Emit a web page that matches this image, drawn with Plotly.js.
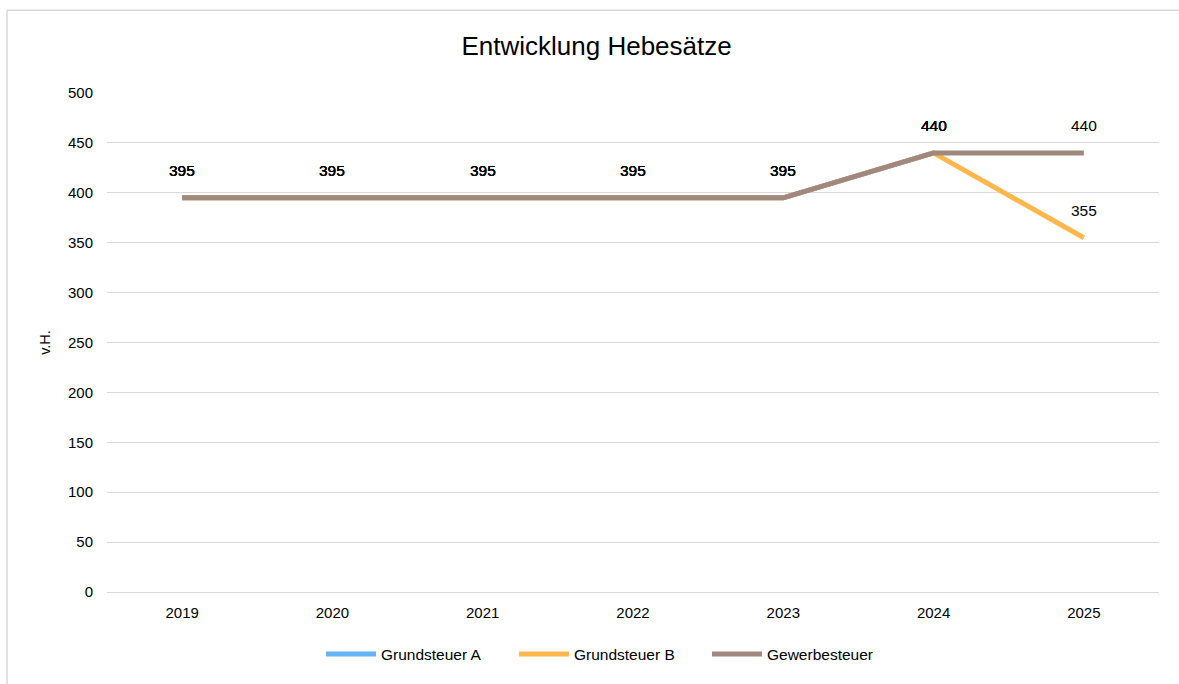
<!DOCTYPE html>
<html>
<head>
<meta charset="utf-8">
<script src="https://cdn.plot.ly/plotly-3.0.1.min.js"></script>
<style>html,body{margin:0;padding:0;background:#fff;}#chart{width:1179px;height:684px;}</style>
</head>
<body>
<div id="chart"></div>
<script>
const years = ["2019", "2020", "2021", "2022", "2023", "2024", "2025"];
const grundsteuerA = [395, 395, 395, 395, 395, 440, null];
const grundsteuerB = [395, 395, 395, 395, 395, 440, 355];
const gewerbesteuer = [395, 395, 395, 395, 395, 440, 440];
const seriesNames = ["Grundsteuer A", "Grundsteuer B", "Gewerbesteuer"];
const seriesColors = ["#64b5f6", "#ffb74d", "#a1887f"];
const yTicks = [0, 50, 100, 150, 200, 250, 300, 350, 400, 450, 500];

const FONT = "Liberation Sans, Arial, sans-serif";
const allSeries = [grundsteuerA, grundsteuerB, gewerbesteuer];

const traces = allSeries.map((vals, i) => ({
  type: "scatter",
  mode: "lines",
  x: years,
  y: vals,
  name: seriesNames[i],
  line: {color: seriesColors[i], width: 5},
  hoverinfo: "x+y+name"
}));

const annotations = [];
allSeries.forEach(vals => {
  vals.forEach((v, j) => {
    if (v === null) return;
    annotations.push({
      x: j, y: v, xref: "x", yref: "y",
      text: String(v), showarrow: false,
      yanchor: "middle", xanchor: "center", yshift: 27,
      font: {family: FONT, size: 15.5, color: "#000"}
    });
  });
});

const PH = 503, PB = 596;

const layout = {
  width: 1179, height: 684,
  paper_bgcolor: "#fff", plot_bgcolor: "#fff",
  margin: {l: 107, r: 20, t: 93, b: 88},
  font: {family: FONT, size: 15, color: "#000"},
  title: {
    text: "Entwicklung Hebesätze",
    font: {family: FONT, size: 26, color: "#000"},
    xref: "container", x: 0.506, xanchor: "center",
    yref: "container", y: 1 - 46 / 684, yanchor: "middle"
  },
  xaxis: {
    type: "category",
    range: [-0.5, 6.5],
    showgrid: false, zeroline: false, showline: false,
    ticks: "", tickfont: {family: FONT, size: 15, color: "#000"},
    ticklabelstandoff: 10,
    fixedrange: true
  },
  yaxis: {
    range: [0, 500],
    tickvals: yTicks,
    showgrid: true, gridcolor: "#d9d9d9", gridwidth: 1.3,
    zeroline: true, zerolinecolor: "#d9d9d9", zerolinewidth: 1.3,
    showline: false, ticks: "",
    tickfont: {family: FONT, size: 15, color: "#000"},
    ticklabelstandoff: 13,
    title: {text: "v.H.", font: {family: FONT, size: 14.5, color: "#000"}, standoff: 13},
    fixedrange: true
  },
  showlegend: true,
  legend: {
    orientation: "h", x: 0.4786, xanchor: "center",
    y: (PB - 659) / PH, yanchor: "middle",
    font: {family: FONT, size: 15.5, color: "#000"},
    itemwidth: 50, entrywidth: 128, traceorder: "normal"
  },
  annotations: annotations,
  shapes: [
    {type: "line", xref: "paper", yref: "paper",
     x0: (7 - 107) / 1052, x1: (7 - 107) / 1052, y0: (PB - 9.5) / PH, y1: -0.3,
     line: {color: "#d9d9d9", width: 1.5}},
    {type: "line", xref: "paper", yref: "paper",
     x0: (7 - 107) / 1052, x1: 1.1, y0: (PB - 9.5) / PH, y1: (PB - 9.5) / PH,
     line: {color: "#d9d9d9", width: 1.5}}
  ]
};

Plotly.newPlot("chart", traces, layout, {displayModeBar: false});
</script>
</body>
</html>
